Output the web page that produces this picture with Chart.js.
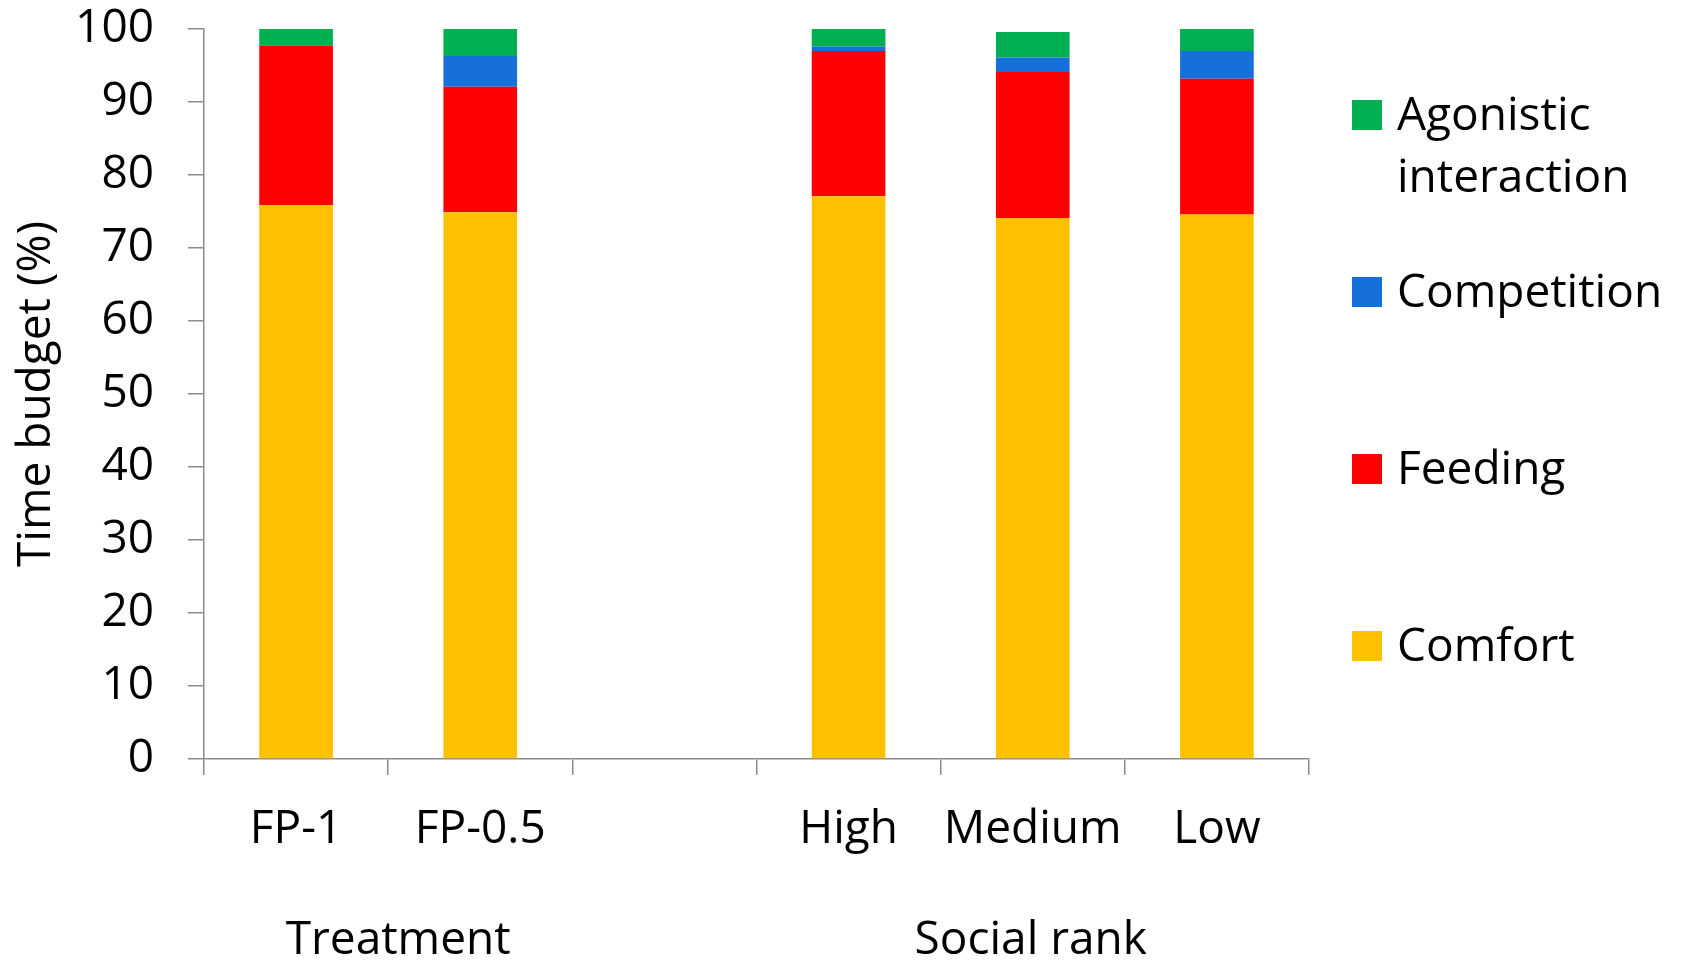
<!DOCTYPE html>
<html>
<head>
<meta charset="utf-8">
<title>Time budget by treatment and social rank</title>
<script src="https://cdn.jsdelivr.net/npm/chart.js@4.4.1/dist/chart.umd.min.js"></script>
<style>
  html, body { margin: 0; padding: 0; background: #ffffff; }
  canvas { display: block; }
</style>
</head>
<body>
<canvas id="budget" width="1686" height="960"></canvas>
<script>
// Categories (the empty slot separates the two groups)
const categories = ['FP-1', 'FP-0.5', '', 'High', 'Medium', 'Low'];

// Time budget (%) per behaviour
const comfort     = [75.9, 74.9, null, 77.1, 74.1, 74.6];
const feeding     = [21.8, 17.2, null, 19.9, 20.0, 18.6];
const competition = [0.0,  4.2,  null, 0.6,  2.0,  3.8];
const agonistic   = [2.3,  3.7,  null, 2.4,  3.5,  3.1];

const seriesNames = ['Comfort', 'Feeding', 'Competition', 'Agonistic interaction'];

// Group captions below the category labels: [caption, first index, last index]
const groupLabels = [
  ['Treatment', 0, 1],
  ['Social rank', 3, 5]
];

const yTicks = { min: 0, max: 100, step: 10 };
const yTitle = 'Time budget (%)';

const FONT = '"Open Sans", Lato, sans-serif';
const FSIZE = 46;
const AXIS_GREY = '#8c8c8c';

// Legend at the right, listed top-down in reverse stacking order
const legendPlugin = {
  id: 'sideLegend',
  afterDraw(chart) {
    const ctx = chart.ctx;
    const boxX = 1352, box = 30, textX = 1397, maxW = 280, lineGap = 62;
    const baselines = [130, 307, 484, 661];
    ctx.save();
    ctx.font = FSIZE + 'px ' + FONT;
    ctx.textAlign = 'left';
    ctx.textBaseline = 'alphabetic';
    const ds = chart.data.datasets.slice().reverse();
    ds.forEach((d, i) => {
      const base = baselines[i];
      ctx.fillStyle = d.backgroundColor;
      ctx.fillRect(boxX, base - box, box, box);
      ctx.fillStyle = '#000';
      // word-wrap the label
      const words = d.label.split(' ');
      const lines = [];
      let cur = '';
      words.forEach(w => {
        const t = cur ? cur + ' ' + w : w;
        if (cur && ctx.measureText(t).width > maxW) { lines.push(cur); cur = w; }
        else cur = t;
      });
      if (cur) lines.push(cur);
      lines.forEach((ln, k) => ctx.fillText(ln, textX, base + k * lineGap));
    });
    ctx.restore();
  }
};

// Second-level captions centred under their category groups
const groupPlugin = {
  id: 'groupCaptions',
  afterDraw(chart) {
    const ctx = chart.ctx;
    const xs = chart.scales.x;
    const nudge = [10, -2];
    ctx.save();
    ctx.font = FSIZE + 'px ' + FONT;
    ctx.fillStyle = '#000';
    ctx.textAlign = 'center';
    ctx.textBaseline = 'alphabetic';
    groupLabels.forEach(([text, a, b], i) => {
      const cx = (xs.getPixelForValue(a) + xs.getPixelForValue(b)) / 2 + nudge[i];
      ctx.fillText(text, cx, 954);
    });
    ctx.restore();
  }
};

function build() {
  const mk = (label, data, color) => ({
    label, data, backgroundColor: color, borderWidth: 0,
    barPercentage: 0.4, categoryPercentage: 1.0
  });

  new Chart(document.getElementById('budget'), {
    type: 'bar',
    data: {
      labels: categories,
      datasets: [
        mk(seriesNames[0], comfort, '#FFC000'),
        mk(seriesNames[1], feeding, '#FF0000'),
        mk(seriesNames[2], competition, '#1570DB'),
        mk(seriesNames[3], agonistic, '#00B050')
      ]
    },
    options: {
      responsive: false,
      devicePixelRatio: 1,
      animation: false,
      layout: { padding: { top: 29, right: 377, bottom: 0, left: 0 } },
      plugins: {
        legend: { display: false },
        tooltip: { enabled: false }
      },
      scales: {
        x: {
          stacked: true,
          grid: {
            offset: true, drawOnChartArea: false, drawTicks: true,
            tickLength: 16, color: AXIS_GREY, lineWidth: 1.5
          },
          border: { display: true, color: AXIS_GREY, width: 1.5 },
          ticks: {
            color: '#000', padding: 27, maxRotation: 0, autoSkip: false,
            font: { family: FONT, size: FSIZE }
          },
          afterFit(scale) {
            scale.height = 201;
            scale.paddingLeft = 0; scale.paddingRight = 0;
          }
        },
        y: {
          stacked: true,
          min: yTicks.min, max: yTicks.max,
          grid: {
            drawOnChartArea: false, drawTicks: true,
            tickLength: 16, color: AXIS_GREY, lineWidth: 1.5
          },
          border: { display: true, color: AXIS_GREY, width: 1.5 },
          ticks: {
            stepSize: yTicks.step, color: '#000', padding: 34,
            font: { family: FONT, size: FSIZE }
          },
          title: {
            display: true, text: yTitle, color: '#000',
            font: { family: FONT, size: FSIZE },
            padding: { top: 9, bottom: 0 }
          },
          afterFit(scale) {
            scale.width = 204;
            scale.paddingTop = 0; scale.paddingBottom = 0;
          }
        }
      }
    },
    plugins: [legendPlugin, groupPlugin]
  });
}

if (document.fonts && document.fonts.load) {
  document.fonts.load(FSIZE + 'px "Open Sans"').then(build, build);
} else {
  build();
}
</script>
</body>
</html>
